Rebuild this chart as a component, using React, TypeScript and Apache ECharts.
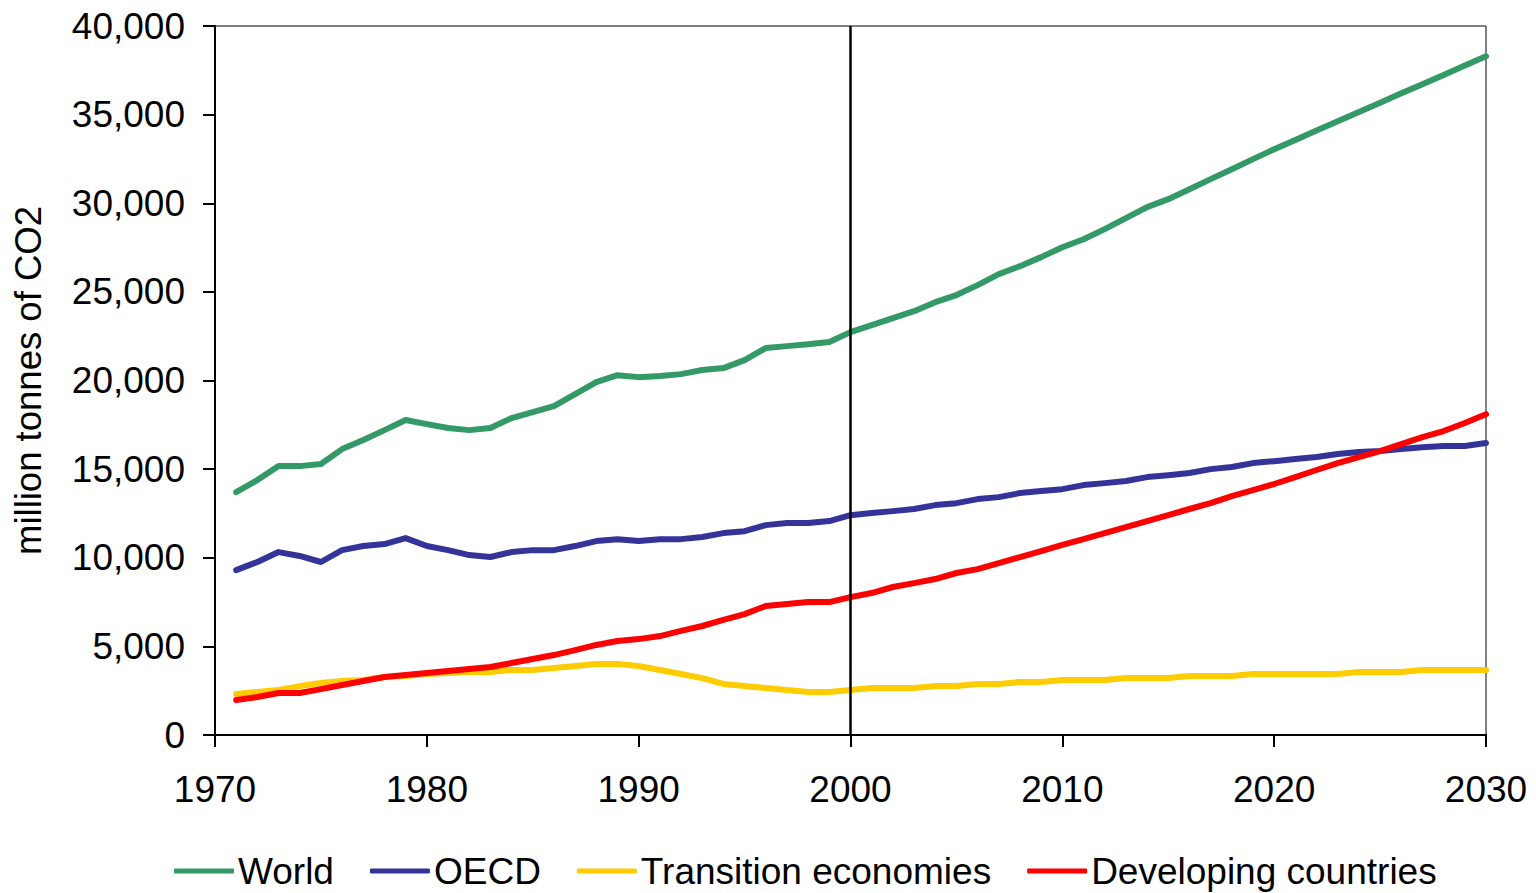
import React, { useEffect, useRef } from "react";
import * as echarts from "echarts";

const years: number[] = [];
for (let y = 1971; y <= 2030; y++) years.push(y);

const world = [
  13700, 14380, 15170, 15170, 15290, 16130, 16640, 17200, 17770, 17540,
  17320, 17200, 17320, 17880, 18220, 18560, 19230, 19910, 20300, 20190,
  20250, 20360, 20590, 20700, 21150, 21830, 21940, 22050, 22170, 22730,
  23120, 23520, 23910, 24420, 24820, 25380, 26000, 26450, 26960, 27520,
  27970, 28540, 29160, 29780, 30230, 30790, 31360, 31920, 32490, 33050,
  33570, 34100, 34620, 35150, 35670, 36200, 36720, 37240, 37770, 38290,
];

const oecd = [
  9300, 9760, 10320, 10100, 9760, 10430, 10660, 10770, 11110, 10660,
  10430, 10150, 10040, 10320, 10430, 10430, 10660, 10940, 11050, 10940,
  11050, 11050, 11170, 11390, 11500, 11840, 11960, 11960, 12070, 12400,
  12520, 12630, 12750, 12970, 13080, 13310, 13420, 13650, 13760, 13870,
  14100, 14210, 14330, 14550, 14660, 14780, 15000, 15120, 15340, 15450,
  15570, 15680, 15850, 15960, 16020, 16130, 16240, 16300, 16300, 16470,
];

const transition = [
  2310, 2430, 2540, 2760, 2930, 3050, 3100, 3270, 3330, 3440,
  3500, 3550, 3550, 3670, 3670, 3780, 3890, 4000, 4000, 3890,
  3670, 3440, 3210, 2880, 2760, 2650, 2540, 2430, 2430, 2540,
  2650, 2650, 2650, 2760, 2760, 2880, 2880, 2990, 2990, 3100,
  3100, 3100, 3210, 3210, 3210, 3330, 3330, 3330, 3440, 3440,
  3440, 3440, 3440, 3550, 3550, 3550, 3670, 3670, 3670, 3670,
];

const developing = [
  1970, 2140, 2370, 2370, 2590, 2820, 3050, 3270, 3380, 3500,
  3610, 3720, 3840, 4060, 4290, 4510, 4790, 5080, 5300, 5410,
  5580, 5870, 6150, 6490, 6820, 7280, 7390, 7500, 7500, 7780,
  8010, 8350, 8570, 8800, 9140, 9360, 9700, 10040, 10380, 10720,
  11050, 11390, 11730, 12070, 12410, 12750, 13080, 13480, 13820, 14160,
  14550, 14950, 15340, 15680, 16020, 16410, 16810, 17150, 17600, 18100,
];

const seriesNames = ["World", "OECD", "Transition economies", "Developing countries"];
const seriesColors = ["#339966", "#333399", "#FFCC00", "#FF0000"];
const seriesValues = [world, oecd, transition, developing];
const markYear = 2000;

const FONT = "'Liberation Sans', Arial, sans-serif";

export default function App() {
  const ref = useRef<HTMLDivElement>(null);

  useEffect(() => {
    if (!ref.current) return;
    const chart = echarts.init(ref.current, undefined, { renderer: "svg" });
    const series: any[] = seriesNames.map((name, i) => ({
      name,
      type: "line",
      data: years.map((y, j) => [y, seriesValues[i][j]]),
      showSymbol: false,
      symbol: "none",
      lineStyle: { color: seriesColors[i], width: 6, cap: "round", join: "round" },
      itemStyle: { color: seriesColors[i] },
      z: 3,
    }));
    series[0].markLine = {
      silent: true,
      symbol: "none",
      label: { show: false },
      lineStyle: { color: "#000", width: 2.5, type: "solid" },
      data: [{ xAxis: markYear }],
      z: 5,
    };
    chart.setOption({
      animation: false,
      backgroundColor: "#fff",
      textStyle: { fontFamily: FONT },
      grid: {
        left: 215,
        right: 50,
        top: 26,
        bottom: 158,
        show: true,
        borderColor: "#000",
        borderWidth: 1,
        backgroundColor: "transparent",
      },
      legend: {
        top: 852,
        left: 174,
        padding: 0,
        itemWidth: 60,
        itemHeight: 5,
        itemGap: 36,
        icon: "roundRect",
        textStyle: {
          fontSize: 37,
          lineHeight: 38,
          color: "#000",
          fontFamily: FONT,
          padding: [0, 0, 0, -1],
        },
        data: seriesNames,
      },
      xAxis: {
        type: "value",
        min: 1970,
        max: 2030,
        interval: 10,
        axisLine: { show: true, lineStyle: { color: "#000", width: 2 } },
        axisTick: { show: true, length: 12, lineStyle: { color: "#000", width: 2 } },
        axisLabel: {
          fontSize: 37,
          color: "#000",
          margin: 36,
          fontFamily: FONT,
          formatter: (v: number) => String(v),
        },
        splitLine: { show: false },
      },
      yAxis: {
        type: "value",
        min: 0,
        max: 40000,
        interval: 5000,
        name: "million tonnes of CO2",
        nameLocation: "middle",
        nameRotate: 90,
        nameGap: 168,
        nameTextStyle: { fontSize: 36.5, color: "#000", fontFamily: FONT },
        axisLine: { show: true, lineStyle: { color: "#000", width: 2 } },
        axisTick: { show: true, length: 12, lineStyle: { color: "#000", width: 2 } },
        axisLabel: {
          fontSize: 37,
          color: "#000",
          margin: 30,
          fontFamily: FONT,
          formatter: (v: number) => v.toLocaleString("en-US"),
        },
        splitLine: { show: false },
      },
      series,
    });
    return () => chart.dispose();
  }, []);

  return (
    <div
      ref={ref}
      style={{ position: "fixed", left: 0, top: 0, width: 1536, height: 893 }}
    />
  );
}
